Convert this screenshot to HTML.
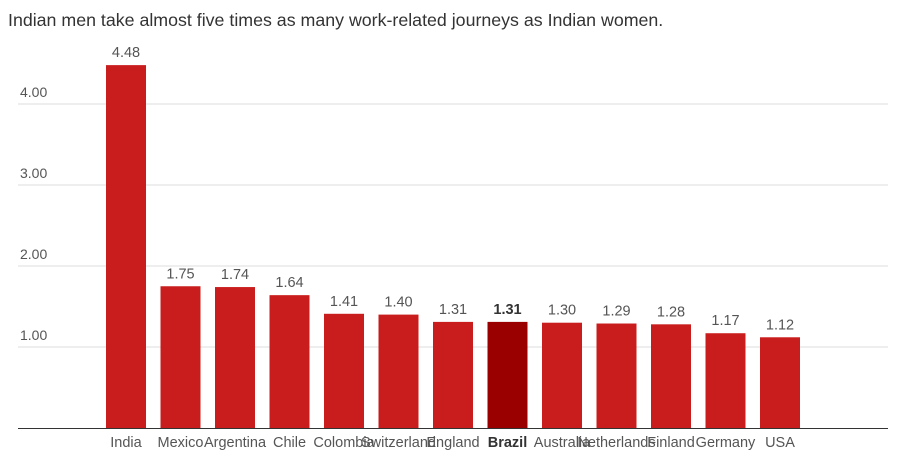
<!DOCTYPE html>
<html><head><meta charset="utf-8">
<style>
html,body{margin:0;padding:0;background:#fff;}
body{width:909px;height:462px;overflow:hidden;font-family:"Liberation Sans",Arial,sans-serif;}
svg text{font-family:"Liberation Sans",Arial,sans-serif;}
</style></head>
<body>
<svg id="chart" width="909" height="462" xmlns="http://www.w3.org/2000/svg">
<text x="8" y="26" font-size="17.8" fill="#333">Indian men take almost five times as many work-related journeys as Indian women.</text>
<g id="grid"></g><g id="bars"></g>
</svg>
<script>
const categories=["India","Mexico","Argentina","Chile","Colombia","Switzerland","England","Brazil","Australia","Netherlands","Finland","Germany","USA"];
const values=[4.48,1.75,1.74,1.64,1.41,1.40,1.31,1.31,1.30,1.29,1.28,1.17,1.12];
const tickValues=[1,2,3,4];
const tickLabels=["1.00","2.00","3.00","4.00"];
const highlight="Brazil";
const NS="http://www.w3.org/2000/svg";
const y0=428, unit=81;
function yScale(v){return y0-v*unit;}
function xScale(i){return 126+i*54.5;}
function mk(tag,attrs,parent){const e=document.createElementNS(NS,tag);for(const k in attrs)e.setAttribute(k,attrs[k]);parent.appendChild(e);return e;}
const grid=document.getElementById('grid'),bars=document.getElementById('bars');
tickValues.forEach((t,i)=>{
  const l=mk('line',{x1:18,x2:888,y1:yScale(t),y2:yScale(t),stroke:'#ddd','stroke-width':1},grid);
  
  
  const tx=mk('text',{x:20,y:yScale(t)-7,'font-size':14,fill:'#555'},grid);
  tx.textContent=tickLabels[i];
  
  
});
const base=mk('line',{x1:18,x2:888,y1:y0+0.5,y2:y0+0.5,stroke:'#333','stroke-width':1},grid);


categories.forEach((c,i)=>{
  const cx=xScale(i),v=values[i],hl=c===highlight;
  const r=mk('rect',{x:cx-20,y:yScale(v),width:40,height:y0-yScale(v),fill:hl?'#9a0000':'#c91d1d'},bars);
  
  
  const vl=mk('text',{x:cx,y:yScale(v)-8,'font-size':14.5,fill:hl?'#333':'#555','text-anchor':'middle','font-weight':hl?'bold':'normal'},bars);
  vl.textContent=v.toFixed(2);
  
  
  const cl=mk('text',{x:cx,y:447,'font-size':14.5,fill:hl?'#333':'#555','text-anchor':'middle','font-weight':hl?'bold':'normal'},bars);
  cl.textContent=c;
  
  
});
</script>
</body></html>
